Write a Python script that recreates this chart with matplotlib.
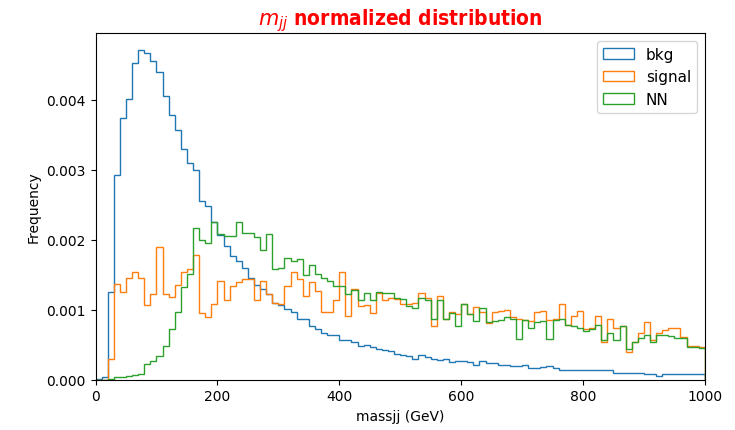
import numpy as np
import matplotlib
matplotlib.use('Agg')
import matplotlib.pyplot as plt

# bin edges (GeV), 100 bins of 10 GeV
edges = np.linspace(0, 1000, 101)

# normalized frequencies per bin (x 1e-3)
bkg = [0.01, 0.03, 1.25, 2.92, 3.73, 4.01, 4.52, 4.71, 4.67, 4.55,
       4.39, 4.05, 3.78, 3.57, 3.29, 3.10, 3.00, 2.55, 2.48, 2.25,
       2.06, 1.91, 1.76, 1.70, 1.60, 1.45, 1.35, 1.29, 1.22, 1.10,
       1.06, 1.01, 0.96, 0.87, 0.87, 0.77, 0.72, 0.67, 0.64, 0.63,
       0.57, 0.56, 0.53, 0.48, 0.50, 0.46, 0.43, 0.42, 0.41, 0.36,
       0.35, 0.34, 0.30, 0.35, 0.32, 0.30, 0.28, 0.29, 0.25, 0.27,
       0.26, 0.25, 0.21, 0.26, 0.24, 0.24, 0.21, 0.21, 0.20, 0.20,
       0.21, 0.16, 0.17, 0.18, 0.20, 0.17, 0.14, 0.14, 0.13, 0.13,
       0.13, 0.14, 0.14, 0.13, 0.13, 0.10, 0.10, 0.10, 0.10, 0.09,
       0.08, 0.08, 0.05, 0.08, 0.08, 0.08, 0.08, 0.08, 0.08, 0.08]

signal = [0.00, 0.00, 0.30, 1.37, 1.25, 1.45, 1.54, 1.45, 1.07, 1.22,
          1.89, 1.22, 1.18, 1.35, 1.54, 1.58, 1.78, 0.95, 0.89, 1.08,
          1.41, 1.13, 1.34, 1.40, 1.43, 1.44, 1.14, 1.41, 1.22, 1.10,
          1.08, 1.34, 1.54, 1.44, 1.20, 1.40, 1.27, 0.96, 0.97, 1.13,
          1.53, 0.91, 1.29, 1.05, 1.06, 0.95, 1.24, 1.14, 1.17, 1.15,
          1.08, 1.08, 1.10, 1.24, 1.16, 0.77, 1.20, 0.87, 0.97, 0.94,
          1.08, 0.94, 1.04, 0.96, 0.81, 0.96, 0.98, 1.00, 0.89, 0.86,
          0.85, 0.84, 0.96, 0.98, 0.85, 0.87, 1.08, 0.78, 0.91, 0.98,
          0.72, 0.74, 0.91, 0.53, 0.87, 0.74, 0.77, 0.39, 0.53, 0.67,
          0.82, 0.56, 0.67, 0.71, 0.74, 0.74, 0.61, 0.48, 0.48, 0.46]

nn = [0.00, 0.00, 0.01, 0.03, 0.04, 0.05, 0.06, 0.08, 0.22, 0.27,
      0.34, 0.48, 0.72, 0.96, 1.32, 1.51, 2.17, 2.00, 1.95, 2.25,
      2.08, 2.05, 2.05, 2.25, 2.10, 2.10, 2.03, 1.85, 2.08, 1.58,
      1.59, 1.74, 1.70, 1.72, 1.50, 1.64, 1.51, 1.45, 1.41, 1.34,
      1.34, 1.22, 1.28, 1.13, 1.24, 1.13, 1.25, 1.24, 1.24, 1.17,
      1.15, 1.05, 1.02, 1.16, 1.13, 0.87, 1.14, 0.87, 0.95, 0.77,
      1.08, 0.94, 0.84, 1.02, 0.82, 0.84, 0.85, 0.89, 0.86, 0.58,
      0.85, 0.74, 0.82, 0.84, 0.58, 0.85, 0.87, 0.78, 0.76, 0.74,
      0.70, 0.72, 0.78, 0.57, 0.67, 0.57, 0.77, 0.44, 0.53, 0.60,
      0.64, 0.53, 0.64, 0.63, 0.62, 0.60, 0.59, 0.47, 0.47, 0.45]

labels = ['bkg', 'signal', 'NN']

centers = edges[:-1] + 5

fig = plt.figure(figsize=(7.35, 4.31), dpi=100)
ax = fig.add_axes([0.130, 0.117, 0.829, 0.804])

for vals, lab in zip([bkg, signal, nn], labels):
    ax.hist(centers, bins=edges, weights=np.array(vals) * 1e-3,
            histtype='step', label=lab)

ax.set_xlim(0, 1000)
ax.set_ylim(0, 0.00495)
ax.set_xlabel('massjj (GeV)')
ax.set_ylabel('Frequency')
ax.set_title('$m_{jj}$ normalized distribution', color='red', fontsize=15,
             fontweight='bold', fontstretch='condensed', pad=5)
ax.legend(loc='upper right', fontsize=11)

fig.savefig('out.png', dpi=100)
